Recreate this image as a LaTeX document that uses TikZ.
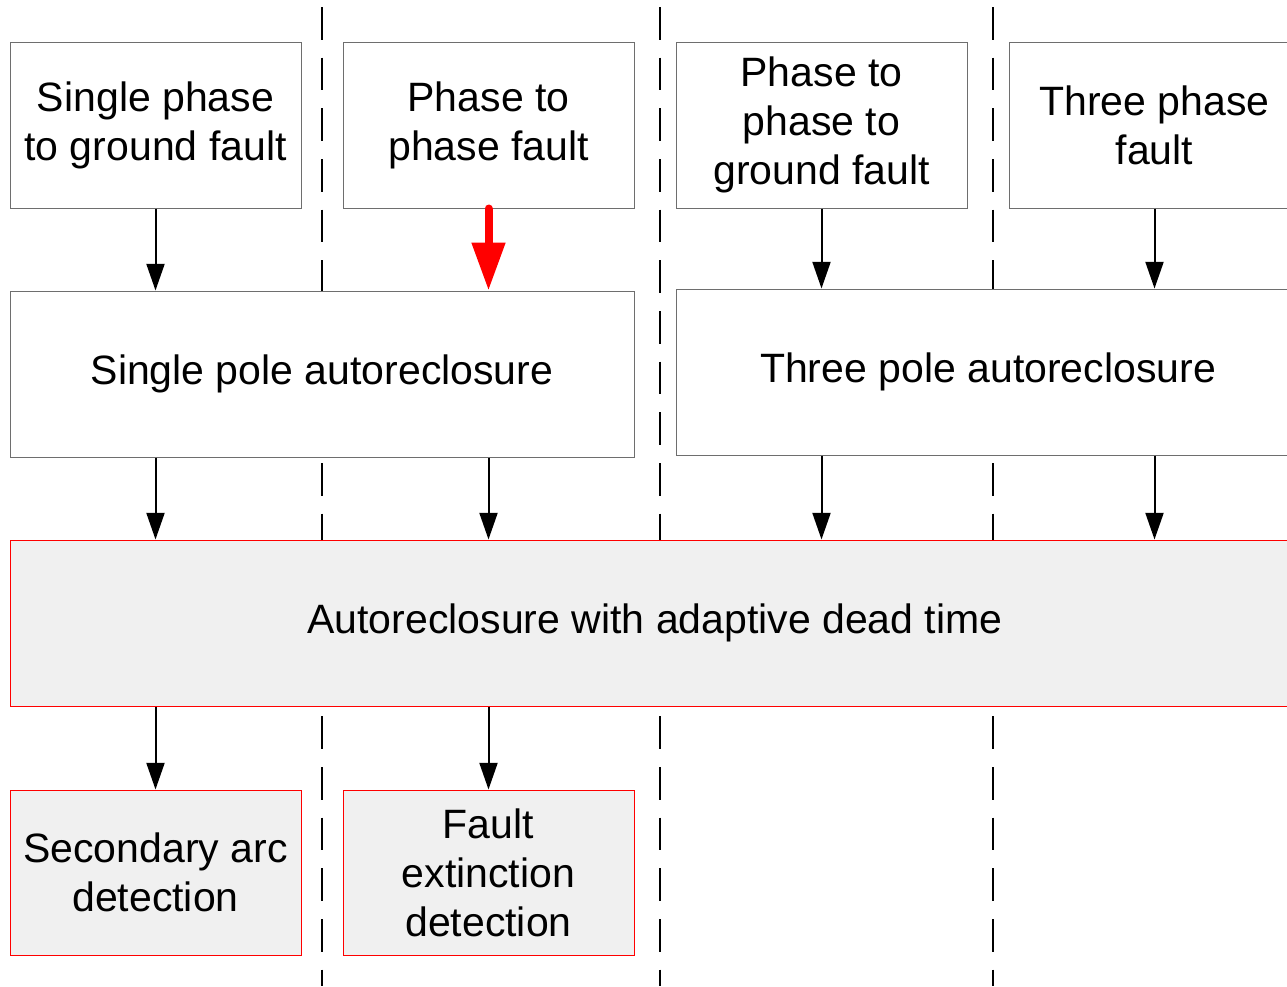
\documentclass[tikz,border=0pt]{standalone}
\usepackage{fontspec}
\setmainfont{Liberation Sans}
\usetikzlibrary{arrows.meta,positioning,calc}
\definecolor{EdgeGray}{HTML}{6E6E6E}
\definecolor{PanelGray}{HTML}{F0F0F0}
\definecolor{AlertRed}{HTML}{FF0000}
\tikzset{
  faultbox/.style={draw=EdgeGray,line width=0.75pt,fill=white,align=center,minimum width=218.25pt,minimum height=124.5pt,inner sep=0pt,font=\fontsize{30.75}{36.75}\selectfont},
  widebox/.style={faultbox,minimum width=468pt},
  adaptbox/.style={faultbox,draw=AlertRed,fill=PanelGray},
  flowarrow/.style={-{Triangle[length=20pt,width=13.5pt]},line width=1.5pt,draw=black},
  redarrow/.style={-{Triangle[length=36pt,width=24pt]},line width=6pt,line cap=round,draw=AlertRed},
  laneline/.style={line width=1.5pt,draw=black,dash pattern=on 24.4pt off 13.6pt}
}
\begin{document}
\begin{tikzpicture}[x=0.75pt,y=-0.75pt]
\clip (0,0) rectangle (1287,986);
\fill[white] (0,0) rectangle (1287,986);
\foreach \lx in {322,660,993}
  \draw[laneline] (\lx,7) -- (\lx,986);
\node[faultbox] (f1) at (155.5,125) {Single phase\\to ground fault};
\node[faultbox] (f2) at (488.5,125) {Phase to\\phase fault};
\node[faultbox] (f3) at (821.5,125) {Phase to\\phase to\\ground fault};
\node[faultbox] (f4) at (1154.5,125) {Three phase\\fault};
\node[widebox] (sp) at (322,374) {Single pole autoreclosure};
\node[widebox] (tp) at (988,372) {Three pole autoreclosure};
\node[adaptbox,minimum width=967.5pt] (ad) at (655,623) {Autoreclosure with adaptive dead time};
\node[adaptbox,minimum height=123.75pt] (sa) at (155.5,872.5) {Secondary arc\\detection};
\node[adaptbox,minimum height=123.75pt] (fe) at (488.5,872.5) {Fault\\extinction\\detection};
\draw[flowarrow] (f1.south) -- (f1.south |- sp.north);
\draw[redarrow] (f2.south) -- (f2.south |- sp.north);
\draw[flowarrow] (f3.south) -- (f3.south |- tp.north);
\draw[flowarrow] (f4.south) -- (f4.south |- tp.north);
\draw[flowarrow] (sp.south -| f1) -- (f1 |- ad.north);
\draw[flowarrow] (sp.south -| f2) -- (f2 |- ad.north);
\draw[flowarrow] (tp.south -| f3) -- (f3 |- ad.north);
\draw[flowarrow] (tp.south -| f4) -- (f4 |- ad.north);
\draw[flowarrow] (ad.south -| sa) -- (sa.north);
\draw[flowarrow] (ad.south -| fe) -- (fe.north);
\end{tikzpicture}
\end{document}
